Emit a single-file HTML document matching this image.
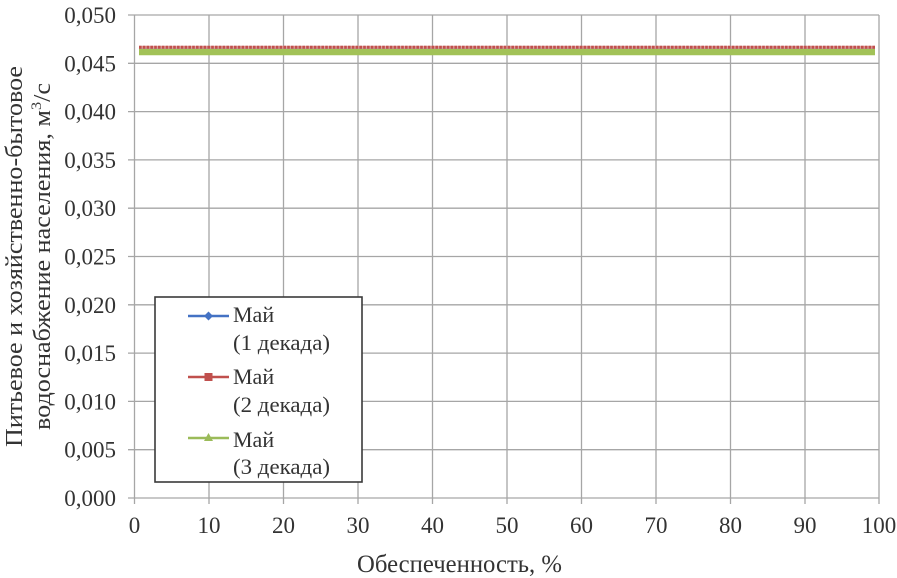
<!DOCTYPE html>
<html>
<head>
<meta charset="utf-8">
<style>
html,body{margin:0;padding:0;background:#fff;}
svg{display:block;}
text{font-family:"Liberation Serif","DejaVu Serif",serif;fill:#333333;}
</style>
</head>
<body>
<svg width="897" height="578" viewBox="0 0 897 578" xmlns="http://www.w3.org/2000/svg">
<rect width="897" height="578" fill="#fff"/>
<!-- horizontal gridlines -->
<g stroke="#a6a6a6" stroke-width="1.3">
<line x1="128" y1="15" x2="879" y2="15"/>
<line x1="128" y1="63.3" x2="879" y2="63.3"/>
<line x1="128" y1="111.6" x2="879" y2="111.6"/>
<line x1="128" y1="159.9" x2="879" y2="159.9"/>
<line x1="128" y1="208.2" x2="879" y2="208.2"/>
<line x1="128" y1="256.5" x2="879" y2="256.5"/>
<line x1="128" y1="304.8" x2="879" y2="304.8"/>
<line x1="128" y1="353.1" x2="879" y2="353.1"/>
<line x1="128" y1="401.4" x2="879" y2="401.4"/>
<line x1="128" y1="449.7" x2="879" y2="449.7"/>
<line x1="128" y1="498" x2="879" y2="498"/>
<!-- vertical gridlines -->
<line x1="134.5" y1="15" x2="134.5" y2="504"/>
<line x1="209" y1="15" x2="209" y2="504"/>
<line x1="283.5" y1="15" x2="283.5" y2="504"/>
<line x1="358" y1="15" x2="358" y2="504"/>
<line x1="432.5" y1="15" x2="432.5" y2="504"/>
<line x1="507" y1="15" x2="507" y2="504"/>
<line x1="581.5" y1="15" x2="581.5" y2="504"/>
<line x1="656" y1="15" x2="656" y2="504"/>
<line x1="730.5" y1="15" x2="730.5" y2="504"/>
<line x1="805" y1="15" x2="805" y2="504"/>
<line x1="879" y1="15" x2="879" y2="504"/>
</g>
<!-- series -->
<line x1="139" y1="48" x2="875" y2="48" stroke="#4472c4" stroke-width="2"/>
<line x1="139" y1="52" x2="875" y2="52" stroke="#a2c257" stroke-width="6.5"/>
<line x1="139" y1="47.3" x2="875" y2="47.3" stroke="#e2a3a0" stroke-width="3"/>
<line x1="139" y1="47.3" x2="875" y2="47.3" stroke="#c0504d" stroke-width="3" stroke-dasharray="2.6,1.2"/>
<!-- y tick labels -->
<g font-size="23" text-anchor="end">
<text x="116" y="23">0,050</text>
<text x="116" y="71.3">0,045</text>
<text x="116" y="119.6">0,040</text>
<text x="116" y="167.9">0,035</text>
<text x="116" y="216.2">0,030</text>
<text x="116" y="264.5">0,025</text>
<text x="116" y="312.8">0,020</text>
<text x="116" y="361.1">0,015</text>
<text x="116" y="409.4">0,010</text>
<text x="116" y="457.7">0,005</text>
<text x="116" y="506">0,000</text>
</g>
<!-- x tick labels -->
<g font-size="23" text-anchor="middle">
<text x="134.5" y="533">0</text>
<text x="209" y="533">10</text>
<text x="283.5" y="533">20</text>
<text x="358" y="533">30</text>
<text x="432.5" y="533">40</text>
<text x="507" y="533">50</text>
<text x="581.5" y="533">60</text>
<text x="656" y="533">70</text>
<text x="730.5" y="533">80</text>
<text x="805" y="533">90</text>
<text x="879" y="533">100</text>
</g>
<!-- x title -->
<text x="357" y="572" font-size="25" textLength="205" lengthAdjust="spacingAndGlyphs">Обеспеченность, %</text>
<!-- y title -->
<g transform="translate(22,256.5) rotate(-90)">
<text x="0" y="0" font-size="24" text-anchor="middle" textLength="381" lengthAdjust="spacingAndGlyphs">Питьевое и хозяйственно-бытовое</text>
</g>
<g transform="translate(50,256.5) rotate(-90)">
<text x="0" y="0" font-size="24" text-anchor="middle" textLength="347" lengthAdjust="spacingAndGlyphs">водоснабжение населения, м<tspan font-size="15" dy="-9">3</tspan><tspan dy="9">/с</tspan></text>
</g>
<!-- legend -->
<rect x="155" y="297" width="207" height="185" fill="#fff" stroke="#3a3a3a" stroke-width="1.6"/>
<line x1="188" y1="316" x2="229" y2="316" stroke="#4472c4" stroke-width="2.5"/>
<polygon points="208.5,311.5 213,316 208.5,320.5 204,316" fill="#4472c4"/>
<line x1="188" y1="377" x2="229" y2="377" stroke="#c0504d" stroke-width="2.5"/>
<rect x="204.5" y="373" width="8" height="8" fill="#c0504d"/>
<line x1="188" y1="438" x2="229" y2="438" stroke="#9bbb59" stroke-width="2.5"/>
<polygon points="208.5,433 213,441 204,441" fill="#9bbb59"/>
<g font-size="22">
<text x="233" y="322">Май</text>
<text x="233" y="350" textLength="97" lengthAdjust="spacingAndGlyphs">(1 декада)</text>
<text x="233" y="384">Май</text>
<text x="233" y="412" textLength="97" lengthAdjust="spacingAndGlyphs">(2 декада)</text>
<text x="233" y="447">Май</text>
<text x="233" y="474" textLength="97" lengthAdjust="spacingAndGlyphs">(3 декада)</text>
</g>
</svg>
</body>
</html>
